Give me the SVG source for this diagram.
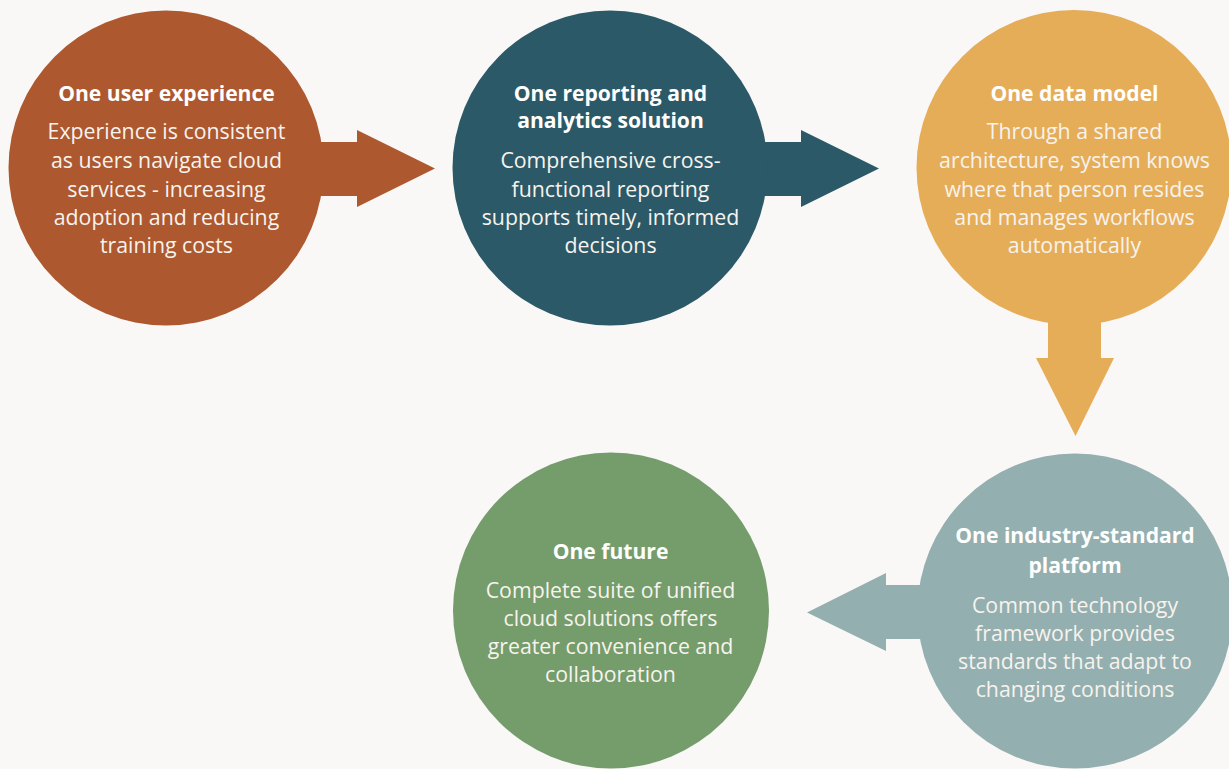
<svg xmlns="http://www.w3.org/2000/svg" width="1229" height="769" viewBox="0 0 1229 769">
<style>
.t{font-family:"Open Sans","Noto Sans","Liberation Sans",sans-serif;font-weight:700;font-size:21.1px;fill:#ffffff;text-anchor:middle}
.b{font-family:"Open Sans","Noto Sans","Liberation Sans",sans-serif;font-weight:400;font-size:21.3px;fill:#f7f3ee;text-anchor:middle}
</style>
<rect width="1229" height="769" fill="#f9f8f7"/>
<g id="connectors">
<polygon fill="#ad582e" points="300,142 357,142 357,130 435,168.5 357,207 357,196 300,196"/>
<polygon fill="#2b5967" points="744,142 801,142 801,130 879,168.5 801,207 801,196 744,196"/>
<polygon fill="#e6ad58" points="1048,300 1101,300 1101,358 1114,358 1075.5,436 1036,358 1048,358"/>
<polygon fill="#94afaf" points="940,585 886,585 886,573 807,612.5 886,651 886,639 940,639"/>
</g>
<g id="node1">
<circle cx="166" cy="168" r="157.5" fill="#ad582e"/>
<text class="t" x="166.5" y="100.7">One user experience</text>
<text class="b" x="166.5" y="139.3">Experience is consistent</text>
<text class="b" x="166.5" y="168">as users navigate cloud</text>
<text class="b" x="166.5" y="196.5">services - increasing</text>
<text class="b" x="166.5" y="225">adoption and reducing</text>
<text class="b" x="166.5" y="252.5">training costs</text>
</g>
<g id="node2">
<circle cx="610" cy="168" r="157.5" fill="#2b5967"/>
<text class="t" x="610.5" y="100.7">One reporting and</text>
<text class="t" x="610.5" y="128.3">analytics solution</text>
<text class="b" x="610.5" y="168">Comprehensive cross-</text>
<text class="b" x="610.5" y="196.5">functional reporting</text>
<text class="b" x="610.5" y="225">supports timely, informed</text>
<text class="b" x="610.5" y="252.5">decisions</text>
</g>
<g id="node3">
<circle cx="1074" cy="167.5" r="157.5" fill="#e6ad58"/>
<text class="t" x="1074.5" y="100.7">One data model</text>
<text class="b" x="1074.5" y="139.3">Through a shared</text>
<text class="b" x="1074.5" y="168">architecture, system knows</text>
<text class="b" x="1074.5" y="196.5">where that person resides</text>
<text class="b" x="1074.5" y="225">and manages workflows</text>
<text class="b" x="1074.5" y="252.5">automatically</text>
</g>
<g id="node4">
<circle cx="611" cy="610.5" r="158" fill="#759c6b"/>
<text class="t" x="610.5" y="559">One future</text>
<text class="b" x="610.5" y="597.7">Complete suite of unified</text>
<text class="b" x="610.5" y="625.7">cloud solutions offers</text>
<text class="b" x="610.5" y="654">greater convenience and</text>
<text class="b" x="610.5" y="682.3">collaboration</text>
</g>
<g id="node5">
<circle cx="1075" cy="611" r="157.5" fill="#94afaf"/>
<text class="t" x="1075" y="543.3">One industry-standard</text>
<text class="t" x="1075" y="572.5">platform</text>
<text class="b" x="1075" y="612.7">Common technology</text>
<text class="b" x="1075" y="640.5">framework provides</text>
<text class="b" x="1075" y="668.5">standards that adapt to</text>
<text class="b" x="1075" y="696.7">changing conditions</text>
</g>
</svg>
